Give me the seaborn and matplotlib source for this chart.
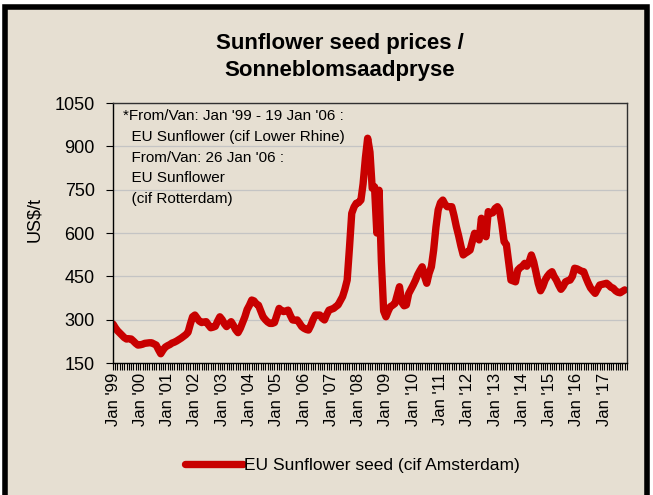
import pandas as pd
import matplotlib.pyplot as plt
import matplotlib.dates as mdates
from matplotlib.patches import Rectangle
import seaborn as sns

# Maandelikse pryse (US$/t), Jan 1999 - Okt 2017, afgelees van die grafiek
p1999 = [285, 272, 262, 254, 246, 238, 233, 234, 233, 226, 218, 212]
p2000 = [213, 215, 218, 219, 220, 220, 216, 212, 196, 182, 195, 205]
p2001 = [210, 214, 219, 222, 226, 231, 236, 242, 248, 256, 285, 310]
p2002 = [316, 305, 295, 290, 292, 293, 282, 272, 274, 277, 295, 310]
p2003 = [300, 285, 276, 285, 293, 280, 265, 255, 270, 290, 310, 335]
p2004 = [350, 368, 365, 355, 350, 330, 310, 300, 292, 287, 287, 290]
p2005 = [315, 339, 332, 328, 330, 333, 315, 299, 298, 299, 288, 276]
p2006 = [270, 266, 264, 280, 300, 316, 316, 316, 305, 299, 318, 333]
p2007 = [336, 339, 345, 351, 365, 380, 405, 437, 550, 668, 690, 703]
p2008 = [705, 714, 770, 860, 928, 880, 755, 760, 600, 748, 500, 330]
p2009 = [310, 330, 345, 350, 356, 385, 414, 360, 348, 351, 390, 405]
p2010 = [420, 437, 455, 470, 483, 450, 426, 460, 483, 540, 620, 680]
p2011 = [705, 714, 700, 691, 691, 691, 660, 622, 590, 555, 524, 530]
p2012 = [535, 541, 570, 599, 590, 576, 651, 620, 587, 674, 668, 670]
p2013 = [685, 691, 680, 630, 570, 560, 500, 437, 434, 431, 472, 480]
p2014 = [485, 495, 485, 500, 524, 500, 465, 426, 400, 415, 437, 450]
p2015 = [460, 466, 450, 437, 420, 405, 415, 431, 435, 437, 450, 478]
p2016 = [476, 472, 468, 466, 445, 426, 410, 400, 391, 405, 420, 422]
p2017 = [424, 426, 420, 412, 409, 400, 395, 393, 398, 403]

pryse = (p1999 + p2000 + p2001 + p2002 + p2003 + p2004 + p2005 + p2006 + p2007
         + p2008 + p2009 + p2010 + p2011 + p2012 + p2013 + p2014 + p2015
         + p2016 + p2017)
datums = pd.date_range("1999-01-01", periods=len(pryse), freq="MS")
df = pd.DataFrame({"datum": datums, "prys": pryse})

y_ticks = [150, 300, 450, 600, 750, 900, 1050]
titel = "Sunflower seed prices /\nSonneblomsaadpryse"
reeks = "EU Sunflower seed (cif Amsterdam)"
nota = ("*From/Van: Jan '99 - 19 Jan '06 :\n"
        "  EU Sunflower (cif Lower Rhine)\n"
        "  From/Van: 26 Jan '06 :\n"
        "  EU Sunflower\n"
        "  (cif Rotterdam)")

sns.set_style("white")
plt.rcParams['font.family'] = ['Liberation Sans', 'DejaVu Sans']
plt.rcParams['text.color'] = 'black'
plt.rcParams['xtick.color'] = 'black'
plt.rcParams['ytick.color'] = 'black'
plt.rcParams['axes.labelcolor'] = 'black'

agter = '#e6dfd2'
rooi = '#c80000'

fig = plt.figure(figsize=(6.53, 4.95), dpi=100, facecolor='white')
# agtergrond met swart raam
fig.patches.append(Rectangle((5 / 653, -0.02), 642 / 653, 1 - 7 / 495 + 0.02,
                             transform=fig.transFigure, facecolor=agter,
                             edgecolor='black', linewidth=4, zorder=-5))
ax = fig.add_axes([113 / 653, 1 - 363 / 495, 514 / 653, 260 / 495])
ax.set_zorder(2)
ax.set_facecolor('none')

sns.lineplot(data=df, x="datum", y="prys", ax=ax, color=rooi, linewidth=5.3,
             label=reeks, solid_joinstyle='round', solid_capstyle='round')

ax.set_ylim(150, 1050)
ax.set_yticks(y_ticks)
ax.set_xlim(pd.Timestamp("1999-01-01"), pd.Timestamp("2017-11-01"))
ax.xaxis.set_major_locator(mdates.YearLocator())
ax.xaxis.set_major_formatter(mdates.DateFormatter("Jan '%y"))
ax.xaxis.set_minor_locator(mdates.MonthLocator())
ax.tick_params(axis='x', which='both', direction='out', length=5, width=0.8,
               bottom=True, labelrotation=90, labelsize=12, pad=2)
ax.tick_params(axis='y', direction='out', length=5, width=0.8, left=True,
               labelsize=13, pad=8)
ax.grid(axis='y', color='#c4c4c4', linewidth=0.9)
ax.grid(axis='x', visible=False)
for s in ax.spines.values():
    s.set_color('#303030')
    s.set_linewidth(1)
ax.spines['left'].set_color('black')
ax.spines['bottom'].set_color('black')

ax.set_xlabel("")
ax.set_ylabel("US$/t", fontsize=13, labelpad=12)
ax.yaxis.set_label_coords(-0.135, 0.55)

ax.text(0.02, 0.975, nota, transform=ax.transAxes, fontsize=11,
        va='top', ha='left', linespacing=1.6)

fig.text(0.52, 0.885, titel, ha='center', va='center', fontsize=16,
         fontweight='bold', linespacing=1.35)

ax.get_legend().remove()
h, l = ax.get_legend_handles_labels()
fig.legend(h, l, loc='center', bbox_to_anchor=(0.54, 0.06), frameon=False,
           fontsize=12.5, handlelength=3.3, handletextpad=0.1)

fig.savefig("out.png", dpi=100, facecolor=fig.get_facecolor())
